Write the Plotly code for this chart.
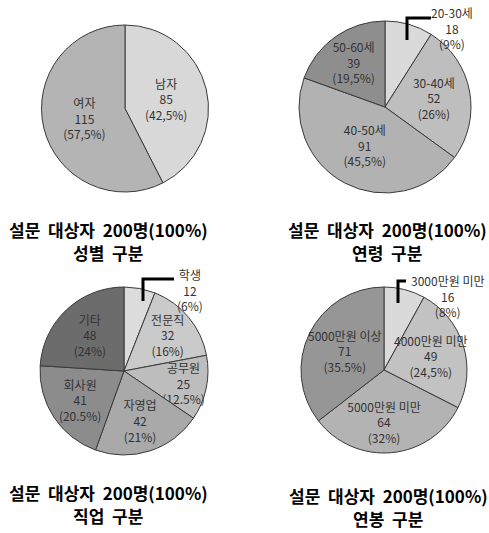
import plotly.graph_objects as go

W, H = 489, 533

# ---- data ----
gender_labels = ["남자", "여자"]
gender_values = [85, 115]
gender_pct = ["42,5%", "57,5%"]

age_labels = ["20-30세", "30-40세", "40-50세", "50-60세"]
age_values = [18, 52, 91, 39]
age_pct = ["9%", "26%", "45,5%", "19,5%"]

job_labels = ["학생", "전문직", "공무원", "자영업", "회사원", "기타"]
job_values = [12, 32, 25, 42, 41, 48]
job_pct = ["6%", "16%", "12.5%", "21%", "20.5%", "24%"]

salary_labels = ["3000만원 미만", "4000만원 미만", "5000만원 미만", "5000만원 이상"]
salary_values = [16, 49, 64, 71]
salary_pct = ["8%", "24,5%", "32%", "35.5%"]

title_main = "설문  대상자  200명(100%)"
subtitles = ["성별  구분", "연령  구분", "직업  구분", "연봉  구분"]

# ---- styles ----
gender_colors = ["#d8d8d8", "#b4b4b4"]
age_colors = ["#dadada", "#bebebe", "#b2b2b2", "#8e8e8e"]
job_colors = ["#dcdcdc", "#cacaca", "#bdbdbd", "#a9a9a9", "#8c8c8c", "#6c6c6c"]
salary_colors = ["#dadada", "#c2c2c2", "#b3b3b3", "#969696"]

FONT = "Noto Sans CJK KR"
LABEL_COLOR = "#333333"
LABEL_SIZE = 12


def px(x):
    return x / W


def py(y):
    return 1 - y / H


def dom(cx, cy, r):
    return dict(x=[px(cx - r), px(cx + r)], y=[py(cy + r), py(cy - r)])


fig = go.Figure()

charts = [
    (gender_labels, gender_values, gender_pct, gender_colors, (125, 108.5, 83.5), False),
    (age_labels, age_values, age_pct, age_colors, (385, 107, 86), True),
    (job_labels, job_values, job_pct, job_colors, (124, 371, 84), True),
    (salary_labels, salary_values, salary_pct, salary_colors, (384, 370, 83), True),
]

for labels, values, pct, colors, (cx, cy, r), first_out in charts:
    texts = [f"{l}<br>{v}<br>({p})" for l, v, p in zip(labels, values, pct)]
    pos = ["inside"] * len(labels)
    if first_out:
        pos[0] = "none"
    fig.add_trace(go.Pie(
        labels=labels, values=values, text=texts,
        textinfo="text", textposition=pos,
        insidetextorientation="horizontal",
        sort=False, direction="clockwise", rotation=0,
        marker=dict(colors=colors, line=dict(color="#3a3a3a", width=1)),
        textfont=dict(family=FONT, size=LABEL_SIZE, color=LABEL_COLOR),
        domain=dom(cx, cy, r), showlegend=False, hoverinfo="skip",
    ))

# outside labels for small first slices
outside = [
    (age_labels, age_values, age_pct, 452, 28, (407, 40, 18, 431)),
    (job_labels, job_values, job_pct, 190, 290, (143, 301, 279, 174)),
    (salary_labels, salary_values, salary_pct, 448, 296, (398, 303, 281, 406)),
]
annotations = []
shapes = []
for labels, values, pct, ax, ay, (lx, ly0, ly1, lx2) in outside:
    annotations.append(dict(
        x=px(ax), y=py(ay), xref="paper", yref="paper",
        text=f"{labels[0]}<br>{values[0]}<br>({pct[0]})", showarrow=False,
        font=dict(family=FONT, size=LABEL_SIZE, color=LABEL_COLOR), align="center",
        xanchor="center", yanchor="middle",
    ))
    shapes.append(dict(type="path", xref="paper", yref="paper",
                       path=f"M {px(lx)} {py(ly0)} L {px(lx)} {py(ly1)} L {px(lx2)} {py(ly1)}",
                       line=dict(color="#000000", width=3)))

title_pos = [(108, 229, 252), (387, 229, 252), (108, 492, 515), (388, 495, 518)]
for (tx, ty1, ty2), sub in zip(title_pos, subtitles):
    for txt, ty in ((title_main, ty1), (sub, ty2)):
        annotations.append(dict(x=px(tx), y=py(ty), xref="paper", yref="paper",
                                text=txt, showarrow=False,
                                font=dict(family=FONT, size=17, color="#000000", weight="bold"),
                                xanchor="center", yanchor="middle"))

fig.update_layout(
    width=W, height=H, margin=dict(l=0, r=0, t=0, b=0),
    paper_bgcolor="white", plot_bgcolor="white",
    annotations=annotations, shapes=shapes,
    uniformtext=dict(minsize=LABEL_SIZE, mode="show"),
)

fig.write_html("out.html")
